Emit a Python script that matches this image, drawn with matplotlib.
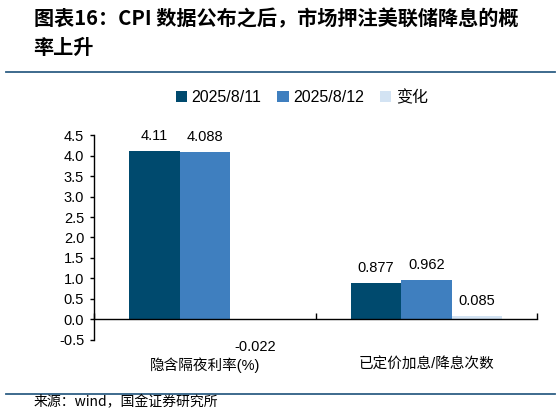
import matplotlib
matplotlib.use("Agg")
import matplotlib.pyplot as plt
import numpy as np
from matplotlib.patches import Patch
from matplotlib.lines import Line2D
from matplotlib.transforms import blended_transform_factory

plt.rcParams["font.family"] = ["Liberation Sans", "Noto Sans CJK SC", "DejaVu Sans"]

categories = ["隐含隔夜利率(%)", "已定价加息/降息次数"]
series_names = ["2025/8/11", "2025/8/12", "变化"]
values_0811 = [4.11, 0.877]
values_0812 = [4.088, 0.962]
values_change = [-0.022, 0.085]
labels_0811 = ["4.11", "0.877"]
labels_0812 = ["4.088", "0.962"]
labels_change = ["-0.022", "0.085"]
yticks = [-0.5, 0.0, 0.5, 1.0, 1.5, 2.0, 2.5, 3.0, 3.5, 4.0, 4.5]

colors = ["#004a6e", "#3f7fbf", "#d3e3f3"]

fig = plt.figure(figsize=(5.59, 4.17), dpi=100)
ax = fig.add_axes([0.168, 0.185, 0.793, 0.491])

x = np.arange(len(categories))
w = 0.227
series = [values_0811, values_0812, values_change]
labels = [labels_0811, labels_0812, labels_change]
for i, (vals, labs) in enumerate(zip(series, labels)):
    xs = x + (i - 1) * w
    ax.bar(xs, vals, width=w, color=colors[i], label=series_names[i])
    for xi, v, lab in zip(xs, vals, labs):
        if v >= 0:
            ax.annotate(lab, (xi, v), xytext=(0, 6), textcoords="offset points",
                        ha="center", va="bottom", fontsize=10.5)
        else:
            ax.annotate(lab, (xi, v), xytext=(0, -14), textcoords="offset points",
                        ha="center", va="top", fontsize=10.5)

ax.set_xlim(-0.5, 1.5)
ax.set_ylim(-0.5, 4.5)
ax.set_yticks(yticks)
ax.set_yticklabels([f"{t:.1f}" for t in yticks], fontsize=10.5)
ax.tick_params(axis="y", direction="out", length=3, width=1, pad=4)

ax.spines["top"].set_visible(False)
ax.spines["right"].set_visible(False)
ax.spines["bottom"].set_position(("data", 0))
ax.spines["left"].set_linewidth(1)
ax.spines["bottom"].set_linewidth(1)
ax.set_xticks([-0.5, 0.5, 1.5])
ax.set_xticklabels([])
ax.tick_params(axis="x", direction="in", length=4, width=1)

tr = blended_transform_factory(ax.transData, ax.transAxes)
for xi, c in zip(x, categories):
    ax.text(xi, -0.085, c, transform=tr, ha="center", va="top", fontsize=10.5,
            family=["Liberation Sans", "Noto Sans CJK SC"])

handles = [Patch(facecolor=c, edgecolor="none") for c in colors]
fig.legend(handles, series_names, loc="center", bbox_to_anchor=(0.54, 0.767),
           ncol=3, frameon=False, fontsize=11.5, handlelength=0.7, handleheight=0.7,
           handletextpad=0.3, columnspacing=1.0)

fig.text(0.06, 0.955, "图表16：CPI 数据公布之后，市场押注美联储降息的概",
         fontsize=14.5, fontweight="bold", style="italic",
         family=["Noto Sans CJK SC"], ha="left", va="center")
fig.text(0.06, 0.885, "率上升", fontsize=14.5, fontweight="bold", style="italic",
         family=["Noto Sans CJK SC"], ha="left", va="center")

for yy in [1 - 72 / 417, 1 - 394 / 417]:
    fig.add_artist(Line2D([0.01, 0.993], [yy, yy], transform=fig.transFigure,
                          color="#2e5f85", linewidth=1.3))

fig.text(0.06, 0.035, "来源：wind，国金证券研究所", fontsize=10,
         family=["Noto Sans CJK SC"], ha="left", va="center")

fig.savefig("out.png", dpi=100)
